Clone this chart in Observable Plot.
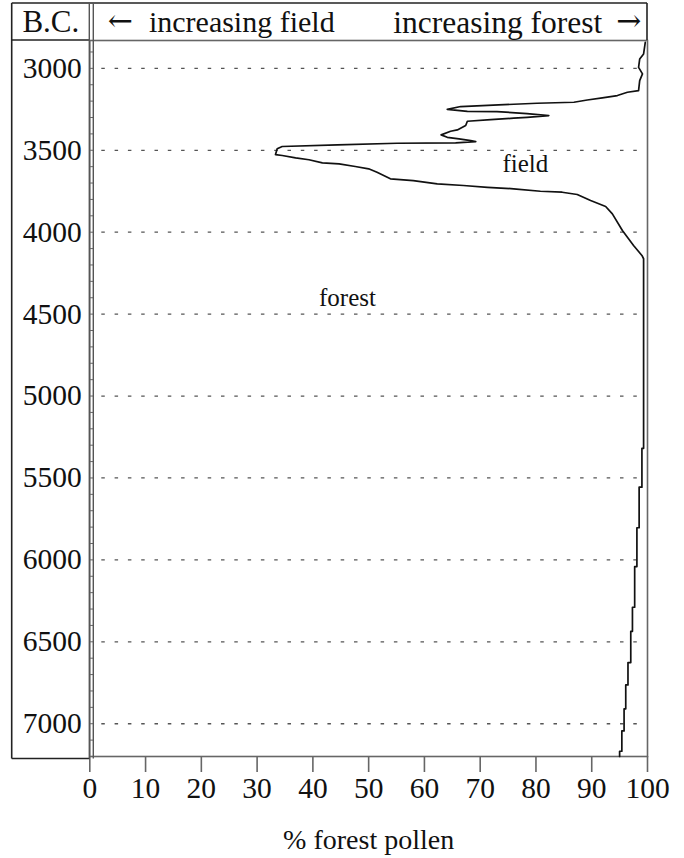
<!DOCTYPE html>
<html><head><meta charset="utf-8">
<script src="https://cdn.jsdelivr.net/npm/d3@7"></script>
<script src="https://cdn.jsdelivr.net/npm/@observablehq/plot@0.6"></script>
<style>body{margin:0;background:#fff;} svg{display:block;}</style>
</head><body><div id="chart"></div>
<script>
// years B.C. (depth order) and % forest pollen
const years = [2842,2912,2943,2994,3034,3075,3136,3146,3166,3180,3193,3207,3213,3223,3233,3250,
  3262,3264,3276,3288,3299,3304,3313,3323,3349,3376,3384,3406,3421,3430,3441,3447,3455,3457,3467,
  3477,3491,3526,3532,3546,3558,3577,3583,3599,3613,3634,3674,3685,3705,3715,3726,3735,3750,3756,
  3770,3807,3843,3888,3990,4081,4142,4162,
  5319,5319,5556,5556,5804,5804,6041,6041,6289,6289,6436,6436,6627,6627,6763,6763,6909,6909,7044,7044,7168,7168,7200];
const forestPct = [99.6,99.3,98.6,98.4,99.1,98.6,98.4,96.4,94.6,91.9,89.2,86.8,80.2,73.3,66.5,64.1,
  67.7,73.0,78.4,82.3,78.4,76.0,71.9,67.7,67.4,65.9,64.7,63.0,64.1,66.2,68.3,69.2,65.6,55.1,44.4,
  34.5,33.6,33.3,34.5,36.9,39.3,41.7,44.7,47.6,50.0,51.5,53.9,58.0,62.3,67.0,71.3,76.0,80.8,84.7,
  87.4,89.8,92.5,93.7,95.5,97.5,99.0,99.3,
  99.3,99.0,99.0,98.5,98.5,98.1,98.1,97.7,97.7,97.3,97.3,97.0,97.0,96.5,96.5,96.1,96.1,95.8,95.8,95.4,95.4,95.0,95.0];

const yearTicks = [3000,3500,4000,4500,5000,5500,6000,6500,7000];
const minorYearTicks = [2900,3000,3100,3200,3300,3400,3500,3600,3700,3800,3900,4000,4100,4200,4300,4400,4500,4600,4700,4800,4900,5000,5100,5200,5300,5400,5500,5600,5700,5800,5900,6000,6100,6200,6300,6400,6500,6600,6700,6800,6900,7000,7100];
const pctTicks = [0,10,20,30,40,50,60,70,80,90,100];

const annotationLabels = ["field", "forest"];
const annotationPct = [78.1, 46.2];
const annotationYear = [3581, 4404];

const cornerLabel = "B.C.";
const headerLeft = "increasing field";
const headerRight = "increasing forest";
const arrowLeft = "\u2190", arrowRight = "\u2192";
const xTitle = "% forest pollen";

const series = years.map((y, i) => ({year: y, pct: forestPct[i]}));
const notes = annotationLabels.map((t, i) => ({text: t, pct: annotationPct[i], year: annotationYear[i]}));

const FONT = "'Liberation Serif', 'Times New Roman', serif";
const ARROWFONT = "'DejaVu Serif', serif";
const W = 684, H = 858, ML = 89.3, MR = 37, MT = 40, MB = 102;

const plot = Plot.plot({
  width: W, height: H,
  marginLeft: ML, marginRight: MR, marginTop: MT, marginBottom: MB,
  style: {fontFamily: FONT, background: "#fff", color: "#111", overflow: "visible"},
  x: {domain: [0, 100]},
  y: {domain: [2830, 7200], reverse: true},
  marks: [
    Plot.ruleY(yearTicks, {stroke: "#555", strokeWidth: 1.3, strokeDasharray: "3.5,9.8", insetLeft: 12, insetRight: 7}),
    Plot.frame({stroke: "#666", strokeWidth: 1.6}),
    Plot.axisY(yearTicks, {anchor: "left", tickSize: 0, tickPadding: 8, tickFormat: d => String(d), fontSize: 29.5, fontFamily: FONT, label: null, fill: "#111"}),
    Plot.axisY(minorYearTicks, {anchor: "left", tickSize: 4, text: null, dx: 4, stroke: "#666", label: null}),
    Plot.axisX(pctTicks, {anchor: "bottom", tickSize: 16, tickPadding: 5, tickFormat: d => String(d), fontSize: 29.5, fontFamily: FONT, label: null, stroke: "#666", strokeWidth: 1.6, fill: "#111"}),
    Plot.line(series, {x: "pct", y: "year", stroke: "#111", strokeWidth: 1.7, curve: "linear"}),
    Plot.text(notes, {x: "pct", y: "year", text: "text", fontSize: 25, fontFamily: FONT, fill: "#111"}),
    Plot.text([xTitle], {frameAnchor: "bottom", lineAnchor: "middle", dy: 84, fontSize: 28, fontFamily: FONT, fill: "#111"}),
    Plot.text([cornerLabel], {frameAnchor: "top-left", lineAnchor: "middle", dx: -39, dy: -18, textAnchor: "middle", fontSize: 31, fontFamily: FONT, fill: "#111"}),
    Plot.text([arrowLeft], {frameAnchor: "top-left", lineAnchor: "middle", dx: 18, dy: -19, textAnchor: "start", fontSize: 30, fontFamily: ARROWFONT, fill: "#111"}),
    Plot.text([headerLeft], {frameAnchor: "top-left", lineAnchor: "middle", dx: 152, dy: -18, textAnchor: "middle", fontSize: 30, fontFamily: FONT, fill: "#111"}),
    Plot.text([headerRight], {frameAnchor: "top-left", lineAnchor: "middle", dx: 408, dy: -18, textAnchor: "middle", fontSize: 31.5, fontFamily: FONT, fill: "#111"}),
    Plot.text([arrowRight], {frameAnchor: "top-right", lineAnchor: "middle", dx: -6, dy: -19, textAnchor: "end", fontSize: 30, fontFamily: ARROWFONT, fill: "#111"})
  ]
});

// table-like box decoration around the header and the year column
const svg = d3.select(plot);
const xs = plot.scale("x"), ys = plot.scale("y");
const boxLeft = 11.7, boxTop = 3, boxBottom = 758.5;
const axisPx = Math.min(...xs.range), rightPx = Math.max(...xs.range), headPx = Math.min(...ys.range);
const deco = svg.append("g").attr("fill", "none");
const seg = (x1, y1, x2, y2, c, w) => deco.append("line").attr("x1", x1).attr("y1", y1).attr("x2", x2).attr("y2", y2).attr("stroke", c).attr("stroke-width", w);
seg(boxLeft, boxTop, rightPx, boxTop, "#222", 1.6);
seg(boxLeft, boxTop, boxLeft, boxBottom, "#222", 1.6);
seg(boxLeft, boxBottom, axisPx, boxBottom, "#222", 1.6);
seg(boxLeft, headPx, axisPx, headPx, "#222", 1.6);
seg(axisPx, boxTop, axisPx, boxBottom, "#555", 1.4);
seg(axisPx + 4, boxTop, axisPx + 4, boxBottom, "#555", 1.4);
seg(rightPx, boxTop, rightPx, headPx, "#222", 1.6);

document.getElementById("chart").append(plot);
</script>
</body></html>
